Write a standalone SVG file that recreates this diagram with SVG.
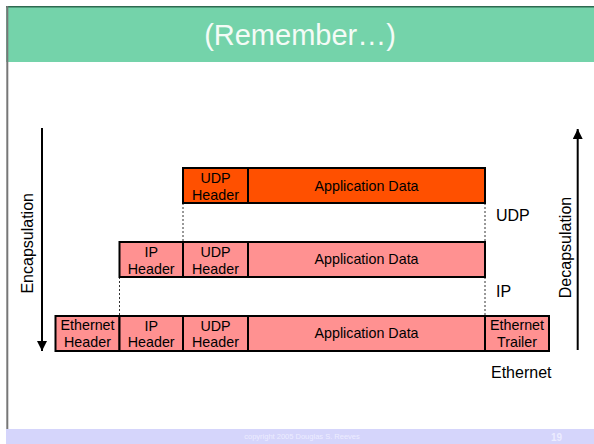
<svg xmlns="http://www.w3.org/2000/svg" width="594" height="444" viewBox="0 0 594 444">
  <defs>
    <style>
      text { font-family: "Liberation Sans", Arial, sans-serif; fill: #000; }
      .box { stroke: #000; stroke-width: 2; }
      .udp { fill: #ff5000; }
      .pink { fill: #ff9191; }
      .lbl { font-size: 14.3px; text-anchor: middle; }
      .side { font-size: 16px; }
      .dots { stroke: #333; stroke-width: 1; stroke-dasharray: 2 2; fill: none; }
      .axis { stroke: #000; stroke-width: 2; fill: none; }
    </style>
    <marker id="head" viewBox="0 0 10 10" refX="10" refY="5" markerWidth="10" markerHeight="10" markerUnits="userSpaceOnUse" orient="auto">
      <path d="M0,0 L10,5 L0,10 Z" fill="#000"/>
    </marker>
  </defs>

  <!-- page background -->
  <rect x="0" y="0" width="594" height="444" fill="#fff"/>

  <!-- title band -->
  <g id="title">
    <rect x="6" y="6" width="588" height="56" fill="#74d3aa"/>
    <line x1="6" y1="6.7" x2="594" y2="6.7" stroke="#2e6a50" stroke-width="1.4"/>
    <text x="300" y="44.5" text-anchor="middle" style="font-size:29px;fill:#f4fbf6">(Remember…)</text>
  </g>

  <!-- left page rule -->
  <line x1="7.3" y1="6" x2="7.3" y2="444" stroke="#777" stroke-width="2"/>

  <!-- footer band -->
  <g id="footer">
    <rect x="6" y="429" width="588" height="15" fill="#d5d5fb"/>
    <text x="302" y="439.3" text-anchor="middle" style="font-size:7.5px;fill:#ececff">copyright 2005 Douglas S. Reeves</text>
    <text x="556.5" y="441" text-anchor="middle" style="font-size:10px;font-weight:bold;fill:#ececff">19</text>
  </g>

  <!-- connectors: direction arrows and alignment guides -->
  <g id="connectors">
    <line class="axis" x1="42" y1="128" x2="42" y2="351" marker-end="url(#head)"/>
    <line class="axis" x1="577.7" y1="350" x2="577.7" y2="129" marker-end="url(#head)"/>
    <line class="dots" x1="183" y1="203" x2="183" y2="242"/>
    <line class="dots" x1="485" y1="203" x2="485" y2="242"/>
    <line class="dots" x1="119.5" y1="277" x2="119.5" y2="316"/>
    <line class="dots" x1="485" y1="277" x2="485" y2="316"/>
  </g>

  <!-- UDP datagram -->
  <g id="udp-udp-header">
    <rect class="box udp" x="183" y="168" width="65" height="35"/>
    <text class="lbl" x="215.5" y="182.7">UDP</text>
    <text class="lbl" x="215.5" y="200">Header</text>
  </g>
  <g id="udp-data">
    <rect class="box udp" x="248" y="168" width="237" height="35"/>
    <text class="lbl" x="366.5" y="190.5">Application Data</text>
  </g>

  <!-- IP packet -->
  <g id="ip-ip-header">
    <rect class="box pink" x="119.5" y="242" width="63.5" height="35"/>
    <text class="lbl" x="151.2" y="256.7">IP</text>
    <text class="lbl" x="151.2" y="274">Header</text>
  </g>
  <g id="ip-udp-header">
    <rect class="box pink" x="183" y="242" width="65" height="35"/>
    <text class="lbl" x="215.5" y="256.7">UDP</text>
    <text class="lbl" x="215.5" y="274">Header</text>
  </g>
  <g id="ip-data">
    <rect class="box pink" x="248" y="242" width="237" height="35"/>
    <text class="lbl" x="366.5" y="264.3">Application Data</text>
  </g>

  <!-- Ethernet frame -->
  <g id="eth-eth-header">
    <rect class="box pink" x="55.5" y="316" width="64" height="35"/>
    <text class="lbl" x="87.5" y="329.8">Ethernet</text>
    <text class="lbl" x="87.5" y="347.4">Header</text>
  </g>
  <g id="eth-ip-header">
    <rect class="box pink" x="119.5" y="316" width="63.5" height="35"/>
    <text class="lbl" x="151.2" y="330.5">IP</text>
    <text class="lbl" x="151.2" y="347.4">Header</text>
  </g>
  <g id="eth-udp-header">
    <rect class="box pink" x="183" y="316" width="65" height="35"/>
    <text class="lbl" x="215.5" y="330.5">UDP</text>
    <text class="lbl" x="215.5" y="347.4">Header</text>
  </g>
  <g id="eth-data">
    <rect class="box pink" x="248" y="316" width="237" height="35"/>
    <text class="lbl" x="366.5" y="338.4">Application Data</text>
  </g>
  <g id="eth-trailer">
    <rect class="box pink" x="485" y="316" width="64" height="35"/>
    <text class="lbl" x="517" y="329.8">Ethernet</text>
    <text class="lbl" x="517" y="347.4">Trailer</text>
  </g>

  <!-- layer labels -->
  <g id="layer-labels">
    <text class="side" x="496" y="221">UDP</text>
    <text class="side" x="496" y="297">IP</text>
    <text class="side" x="491" y="378.3">Ethernet</text>
  </g>

  <!-- axis labels -->
  <g id="axis-labels">
    <text class="side" text-anchor="middle" transform="translate(32.8,243.3) rotate(-90)">Encapsulation</text>
    <text class="side" text-anchor="middle" transform="translate(571.2,247.5) rotate(-90)">Decapsulation</text>
  </g>
</svg>
